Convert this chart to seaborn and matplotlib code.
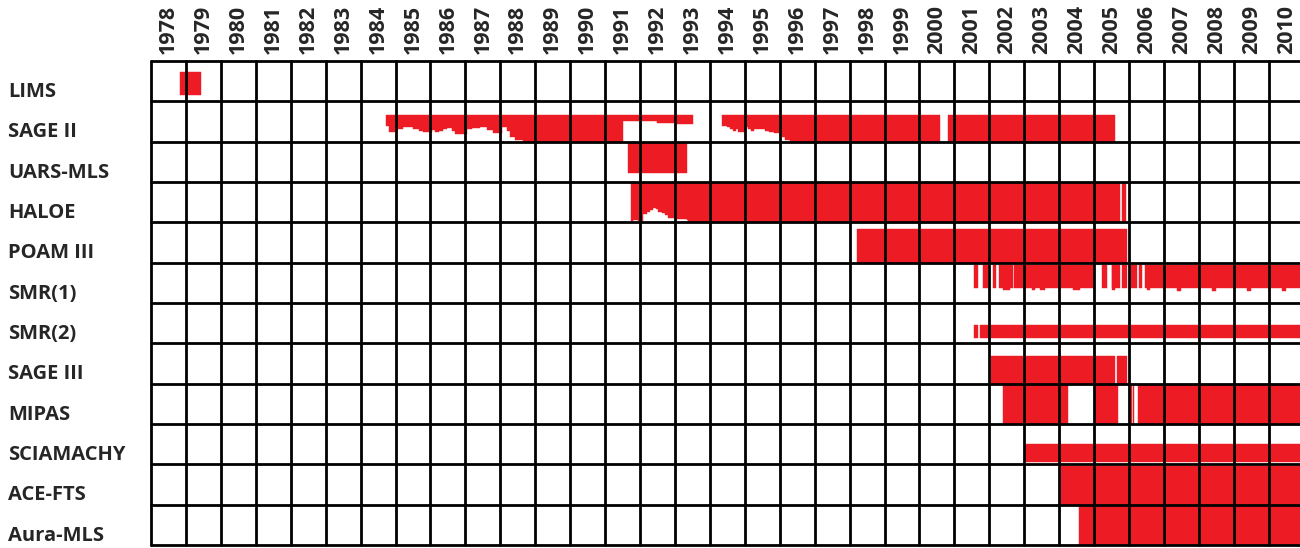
import numpy as np
import pandas as pd
import matplotlib
matplotlib.use("Agg")
import matplotlib.pyplot as plt
from matplotlib.colors import ListedColormap
import seaborn as sns

# ---------------------------------------------------------------------------
# Data
# ---------------------------------------------------------------------------
years = list(range(1978, 2011))
instruments = ["LIMS", "SAGE II", "UARS-MLS", "HALOE", "POAM III", "SMR(1)",
               "SMR(2)", "SAGE III", "MIPAS", "SCIAMACHY", "ACE-FTS", "Aura-MLS"]

# Each coverage entry: (start year, end year, lower edge as fraction of the row)
lims_cov = [(1978.83, 1979.43, 0.84)]

sage2_cov = [
    (1984.73, 1984.81, 0.62), (1984.81, 1985.03, 0.76), (1985.03, 1985.22, 0.68),
    (1985.22, 1985.51, 0.645), (1985.51, 1985.68, 0.68), (1985.68, 1985.80, 0.73),
    (1985.80, 1986.04, 0.76), (1986.04, 1986.13, 0.70), (1986.13, 1986.25, 0.76),
    (1986.25, 1986.37, 0.73), (1986.37, 1986.47, 0.68), (1986.47, 1986.61, 0.66),
    (1986.61, 1986.70, 0.73), (1986.70, 1987.06, 0.81), (1987.06, 1987.18, 0.695),
    (1987.18, 1987.42, 0.66), (1987.42, 1987.61, 0.645), (1987.61, 1987.80, 0.70),
    (1987.80, 1988.04, 0.79), (1988.04, 1988.18, 0.645), (1988.18, 1988.28, 0.745),
    (1988.28, 1988.42, 0.89), (1988.42, 1988.66, 0.95), (1988.66, 1991.50, 1.0),
    (1991.50, 1991.95, 0.48), (1991.95, 1992.48, 0.50), (1992.48, 1993.05, 0.54),
    (1993.05, 1993.51, 0.56),
    (1994.36, 1994.48, 0.62), (1994.48, 1994.58, 0.645), (1994.58, 1994.67, 0.68),
    (1994.67, 1994.74, 0.745), (1994.74, 1994.80, 0.68), (1994.80, 1995.03, 0.76),
    (1995.03, 1995.10, 0.645), (1995.10, 1995.18, 0.68), (1995.18, 1995.27, 0.73),
    (1995.27, 1995.58, 0.68), (1995.58, 1995.69, 0.73), (1995.69, 1995.84, 0.76),
    (1995.84, 1996.06, 0.79), (1996.06, 1996.15, 0.89), (1996.15, 1996.30, 0.96),
    (1996.30, 2000.59, 1.0), (2000.82, 2005.60, 1.0),
]

uars_mls_cov = [(1991.66, 1993.34, 0.77)]

haloe_cov = [
    (1991.74, 1991.81, 0.97), (1991.81, 1991.95, 0.94), (1991.95, 1992.08, 0.97),
    (1992.08, 1992.19, 0.80), (1992.19, 1992.28, 0.74), (1992.28, 1992.36, 0.70),
    (1992.36, 1992.46, 0.65), (1992.46, 1992.52, 0.67), (1992.52, 1992.62, 0.74),
    (1992.62, 1992.71, 0.78), (1992.71, 1992.81, 0.82), (1992.81, 1993.00, 0.90),
    (1993.00, 1993.34, 0.92), (1993.34, 1993.38, 0.95), (1993.38, 2005.73, 1.0),
    (2005.81, 2005.92, 1.0),
]

poam3_cov = [(1998.22, 2005.93, 1.0)]

smr1_cov = [
    (2001.56, 2001.67, 0.63), (2001.81, 2001.95, 0.63), (2002.10, 2002.19, 0.63),
    (2002.29, 2002.67, 0.63), (2002.71, 2005.00, 0.63), (2005.23, 2005.36, 0.63),
    (2005.50, 2005.74, 0.63), (2005.81, 2005.93, 0.63), (2006.05, 2006.22, 0.63),
    (2006.29, 2006.36, 0.63), (2006.46, 2011.00, 0.63),
    # short dips in the lower edge
    (2002.40, 2002.59, 0.68), (2003.21, 2003.31, 0.68), (2003.45, 2003.59, 0.68),
    (2004.40, 2004.60, 0.68), (2005.50, 2005.60, 0.68), (2006.51, 2006.60, 0.68),
    (2007.37, 2007.48, 0.70), (2008.37, 2008.49, 0.70), (2009.37, 2009.48, 0.70),
    (2010.37, 2010.48, 0.70),
]

smr2_cov = [(2001.56, 2001.67, 0.86), (2001.73, 2011.00, 0.86)]

sage3_cov = [(2002.05, 2005.60, 1.0), (2005.66, 2005.94, 1.0)]

mipas_cov = [
    (2002.40, 2004.24, 1.0), (2005.03, 2005.67, 1.0), (2006.05, 2006.08, 1.0),
    (2006.12, 2006.14, 1.0), (2006.27, 2011.00, 1.0),
]

sciamachy_cov = [(2003.02, 2011.00, 0.94)]

ace_fts_cov = [(2004.04, 2011.00, 1.0)]

aura_mls_cov = [(2004.57, 2011.00, 1.0)]

# upper edge of each instrument's band (fraction of the row)
band_tops = [0.27, 0.33, 0.04, 0.03, 0.16, 0.05, 0.55, 0.32, 0.04, 0.50, 0.03, 0.03]

coverage = [lims_cov, sage2_cov, uars_mls_cov, haloe_cov, poam3_cov, smr1_cov,
            smr2_cov, sage3_cov, mipas_cov, sciamachy_cov, ace_fts_cov, aura_mls_cov]

# ---------------------------------------------------------------------------
# Figure
# ---------------------------------------------------------------------------
sns.set_style("white")
RED = "#ED1C24"
W, H = 1300, 548

fig = plt.figure(figsize=(W / 100, H / 100), dpi=100)
ax = fig.add_axes([151 / W, 1 - 545 / H, (W - 151) / W, (545 - 61) / H])

grid = pd.DataFrame(np.zeros((len(instruments), len(years))),
                    index=instruments, columns=years)
sns.heatmap(grid, cmap=ListedColormap(["white"]), cbar=False, ax=ax,
            xticklabels=True, yticklabels=True)

for row, (cov, top) in enumerate(zip(coverage, band_tops)):
    starts = np.array([c[0] for c in cov]) - years[0]
    ends = np.array([c[1] for c in cov]) - years[0]
    lows = np.array([c[2] for c in cov])
    ax.bar(starts, lows - top, width=ends - starts, bottom=row + top,
           align="edge", color=RED, edgecolor=RED, linewidth=0.3, zorder=2)

# cell borders
for i in range(len(years) + 1):
    ax.axvline(i, color="black", lw=2.0, zorder=5, clip_on=False)
for j in range(len(instruments) + 1):
    ax.axhline(j, color="black", lw=2.0, zorder=5, clip_on=False)

ax.set_xlim(0, (W - 151) / 34.93)
ax.set_ylim(len(instruments), 0)

# year labels on top
ax.xaxis.tick_top()
ax.set_xticks(np.arange(len(years)) + 0.5)
ax.set_xticklabels([str(y) for y in years], rotation=90, fontsize=15.5,
                   fontfamily="Open Sans", fontweight="bold")
ax.tick_params(axis="x", length=0, pad=5)

# instrument names on the left
ax.set_yticks(np.arange(len(instruments)) + 0.77)
ax.set_yticklabels(instruments, rotation=0, ha="left", fontsize=14.5,
                   fontfamily="Open Sans", fontweight="bold")
ax.tick_params(axis="y", length=0, pad=143 / 1.389)
ax.set_xlabel("")
ax.set_ylabel("")
for s in ax.spines.values():
    s.set_visible(False)

fig.savefig("out.png", dpi=100)
